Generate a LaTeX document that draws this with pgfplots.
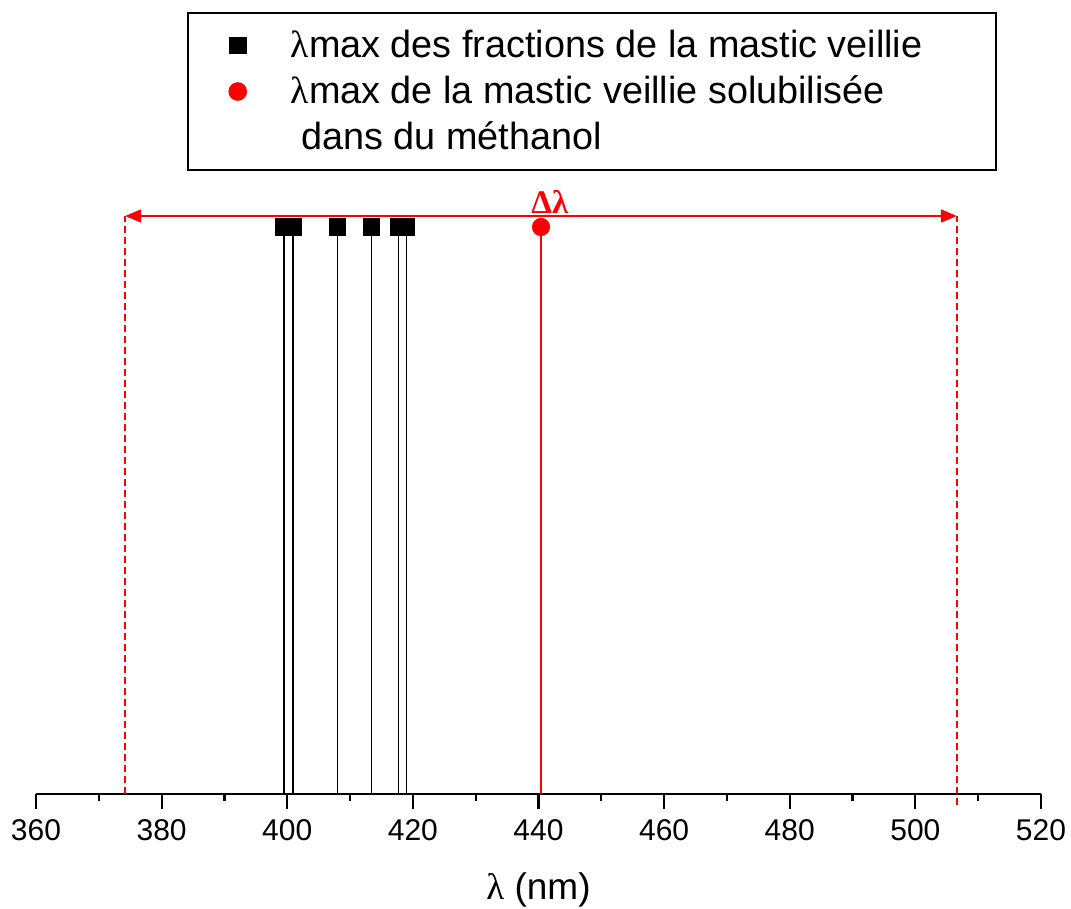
\documentclass[border=0pt]{standalone}
\usepackage{fontspec}
\setmainfont{Liberation Sans}
\newfontfamily\serif{Liberation Serif}
\usepackage{pgfplots}
\pgfplotsset{compat=1.18}
\usetikzlibrary{arrows.meta}

\begin{document}
\begin{tikzpicture}
\begin{axis}[
  scale only axis, width=502.5pt, height=307pt,
  xmin=360, xmax=520, ymin=0, ymax=1.0829,
  axis x line=bottom, axis y line=none,
  x axis line style={-, line width=1.2pt},
  xtick={360,380,...,520}, minor x tick num=1,
  tick align=outside,
  major tick length=7.5pt, minor tick length=3.5pt,
  every tick/.style={black, line width=1.1pt},
  /pgf/number format/assume math mode=true,
  xticklabel style={font=\fontsize{15}{18}\selectfont, yshift=-1.5pt},
  xlabel={{\serif λ} (nm)},
  xlabel style={font=\fontsize{18.5}{22}\selectfont, at={(axis description cs:0.5,-0.157)}, anchor=center},
  clip=false,
  legend cell align=left,
  legend style={at={(axis description cs:0.1502,1.2736)}, anchor=north west,
    draw=black, line width=0.8pt, inner xsep=0pt, inner ysep=4.85pt,
    row sep=0pt, column sep=0pt, font=\fontsize{18.9}{22}\selectfont,
    nodes={inner sep=0pt}},
  mylegimg/.style={legend image code/.code={%
      \path[draw=none, fill=none] (0pt,-11.5pt) rectangle (51.5pt,11.5pt);
      \draw[##1] plot coordinates {(25pt,0pt)};}},
]
\addlegendimage{mylegimg, black, mark=square*, mark size=4pt}
\addlegendentry{\makebox[352.5pt][l]{{\serif λ}max des fractions de la mastic veillie}}
\addlegendimage{mylegimg, red, mark=*, mark size=4.25pt}
\addlegendentry{\makebox[352.5pt][l]{{\serif λ}max de la mastic veillie solubilisée}}
\addlegendimage{legend image code/.code={\path[draw=none, fill=none] (0pt,-11.5pt) rectangle (51.5pt,11.5pt);}}
\addlegendentry{\makebox[352.5pt][l]{\ dans du méthanol}}

\addplot[red, line width=1.2pt, dash pattern=on 3.5pt off 2pt, forget plot]
  coordinates {(374.2,0) (374.2,1.0194)};
\addplot[red, line width=1.2pt, dash pattern=on 3.5pt off 2pt, forget plot]
  coordinates {(506.6,-0.02) (506.6,1.0194)};
\addplot[ycomb, black, line width=0.9pt, mark=square*, mark size=4pt, forget plot]
  coordinates {(399.5,1) (400.9,1) (408.0,1) (413.4,1) (417.7,1) (419.0,1)};
\addplot[ycomb, red, line width=0.55pt, mark=*, mark size=4.25pt, forget plot]
  coordinates {(440.4,1)};
\draw[red, line width=1pt, {Triangle[length=8pt,width=6.5pt]}-{Triangle[length=8pt,width=6.5pt]}]
  (axis cs:374.2,1.0194) -- (axis cs:506.6,1.0194);
\node[red, font=\serif\bfseries\fontsize{16.5}{18}\selectfont, anchor=base, inner sep=0pt, yshift=1pt]
  at (axis cs:441.8,1.0194) {Δλ};
\end{axis}
\pgfresetboundingbox
\useasboundingbox (-18pt,-57.5pt) rectangle (517.5pt,397pt);
\end{tikzpicture}
\end{document}
